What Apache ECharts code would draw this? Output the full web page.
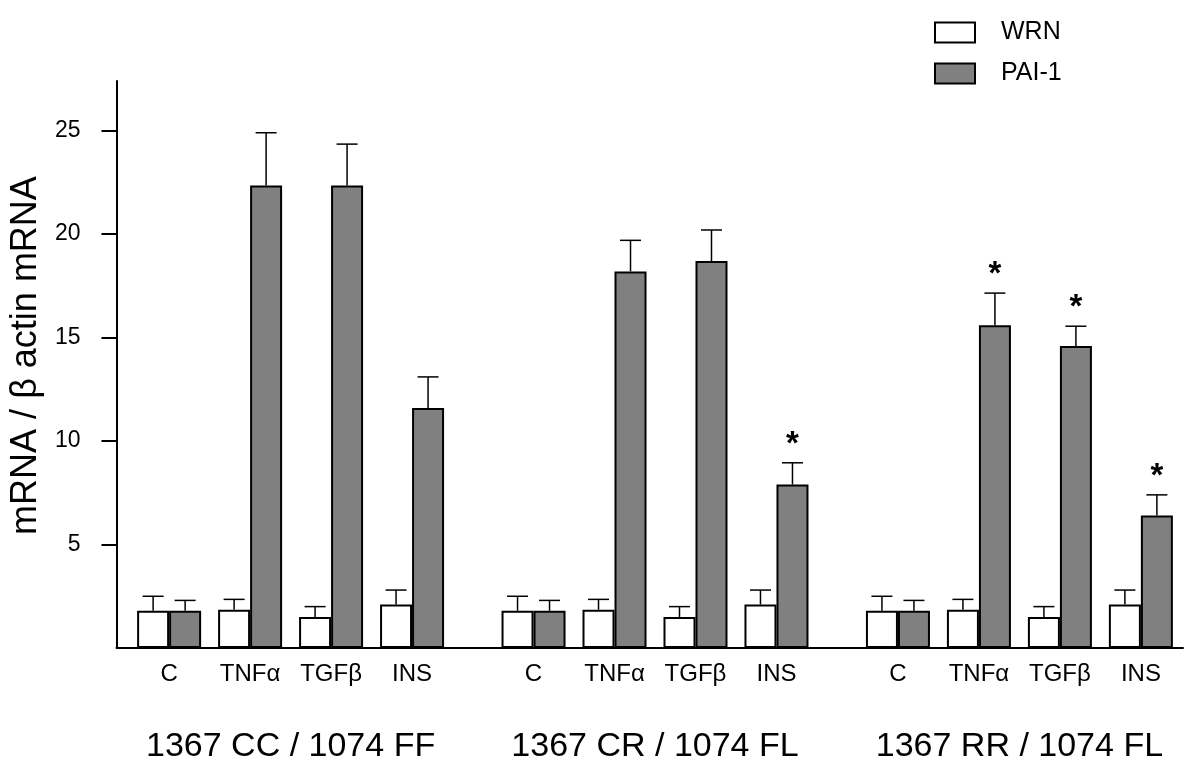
<!DOCTYPE html>
<html><head><meta charset="utf-8">
<script src="https://cdn.jsdelivr.net/npm/echarts@6/dist/echarts.min.js"></script>
<style>html,body{margin:0;padding:0;background:#fff}#c{width:1200px;height:780px}</style>
</head><body><div id="c"></div>
<script>
const treatments = ['C','TNFα','TGFβ','INS','C','TNFα','TGFβ','INS','C','TNFα','TGFβ','INS'];
const positions = [0,1,2,3, 4.5,5.5,6.5,7.5, 9,10,11,12];
const genotypes = ['1367 CC / 1074 FF','1367 CR / 1074 FL','1367 RR / 1074 FL'];
const genotypePositions = [1.5, 6, 10.5];
const wrnMean = [1.8,1.85,1.5,2.1, 1.8,1.85,1.5,2.1, 1.8,1.85,1.5,2.1];
const wrnErr  = [0.7,0.5,0.5,0.7, 0.7,0.5,0.5,0.7, 0.7,0.5,0.5,0.7];
const paiMean = [1.8,22.35,22.35,11.6, 1.8,18.2,18.7,7.9, 1.8,15.6,14.6,6.4];
const paiErr  = [0.5,2.55,2.0,1.5, 0.5,1.5,1.5,1.05, 0.5,1.55,0.95,1.0];
const paiSig  = [0,0,0,0, 0,0,0,1, 0,1,1,1];
const yTicks = [5,10,15,20,25];

const FONT = 'Liberation Sans, Arial, sans-serif';
const BAR_W = 32;

function errRender(offset, sig) {
  return function (params, api) {
    const i = params.dataIndex;
    const x = api.value(0), m = api.value(1), e = api.value(2);
    const base = api.coord([x, m]);
    const top = api.coord([x, m + e]);
    const cx = base[0] + offset;
    const st = {stroke: '#000', lineWidth: 1.5};
    const children = [
      {type: 'line', shape: {x1: cx, y1: base[1], x2: cx, y2: top[1]}, style: st},
      {type: 'line', shape: {x1: cx - 10.5, y1: top[1], x2: cx + 10.5, y2: top[1]}, style: st}
    ];
    if (sig && sig[i]) {
      children.push({type: 'text', x: cx, y: top[1] - 18,
        style: {text: '*', fill: '#000', font: 'bold 33px ' + FONT, align: 'center', verticalAlign: 'middle'}});
    }
    return {type: 'group', children};
  };
}

const chart = echarts.init(document.getElementById('c'), null, {renderer: 'canvas'});
chart.setOption({
  backgroundColor: '#fff',
  animation: false,
  textStyle: {fontFamily: FONT, color: '#000'},
  legend: {
    data: ['WRN', 'PAI-1'], orient: 'vertical', left: 929, top: 15,
    itemWidth: 40, itemHeight: 20, itemGap: 16, icon: 'rect',
    itemStyle: {borderColor: '#000', borderWidth: 2},
    textStyle: {fontSize: 25, color: '#000', fontFamily: FONT, padding: [0, 0, 0, 21], lineHeight: 20}
  },
  grid: {left: 115, right: 17, top: 81, bottom: 132, containLabel: false},
  xAxis: [{
    type: 'value', min: -0.65, max: 12.52,
    axisLine: {onZero: false, lineStyle: {color: '#000', width: 2}},
    axisTick: {show: false}, splitLine: {show: false},
    axisLabel: {customValues: positions, fontSize: 24, color: '#000', margin: 14,
      formatter: v => treatments[positions.indexOf(v)] || ''}
  }, {
    type: 'value', min: -0.65, max: 12.52, position: 'bottom',
    axisLine: {show: false}, axisTick: {show: false}, splitLine: {show: false},
    axisLabel: {customValues: genotypePositions, fontSize: 34, color: '#000', margin: 82,
      formatter: v => genotypes[genotypePositions.indexOf(v)] || ''}
  }],
  yAxis: {
    type: 'value', min: 0, max: 27.4,
    name: 'mRNA / β actin mRNA', nameLocation: 'middle', nameGap: 64,
    nameTextStyle: {fontSize: 36, color: '#000', fontFamily: FONT, padding: [0, 0, 0, 18]},
    axisLine: {show: true, onZero: false, lineStyle: {color: '#000', width: 2}},
    axisTick: {show: true, length: 15, customValues: yTicks, lineStyle: {color: '#000', width: 2}},
    splitLine: {show: false},
    axisLabel: {customValues: yTicks, fontSize: 23, color: '#000', margin: 36, padding: [0, 0, 12, 0]}
  },
  series: [
    {name: 'WRN', type: 'bar', barWidth: BAR_W, barGap: '0%',
      itemStyle: {color: '#fff', borderColor: '#000', borderWidth: 2},
      data: positions.map((p, i) => [p, wrnMean[i]])},
    {name: 'PAI-1', type: 'bar', barWidth: BAR_W, barGap: '0%',
      itemStyle: {color: '#808080', borderColor: '#000', borderWidth: 2},
      data: positions.map((p, i) => [p, paiMean[i]])},
    {type: 'custom', z: 5, renderItem: errRender(-BAR_W / 2, null),
      encode: {x: 0, y: 1}, data: positions.map((p, i) => [p, wrnMean[i], wrnErr[i]])},
    {type: 'custom', z: 5, renderItem: errRender(BAR_W / 2, paiSig),
      encode: {x: 0, y: 1}, data: positions.map((p, i) => [p, paiMean[i], paiErr[i]])}
  ]
});
</script></body></html>
